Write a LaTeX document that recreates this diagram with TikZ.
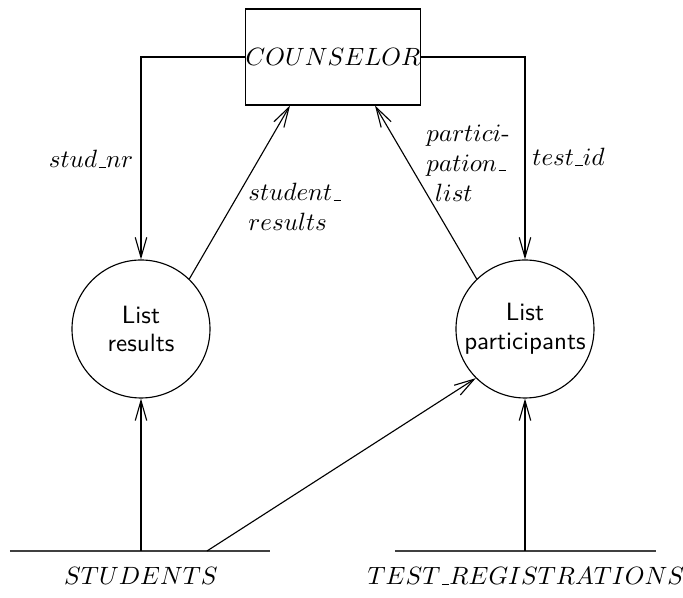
\documentclass[tikz,border=0pt]{standalone}
\usetikzlibrary{arrows.meta,calc}
% short, low underscore rule as in classic LaTeX
\newcommand\usc{\leavevmode\kern.06em\vbox{\hrule width.3em}}
\begin{document}
\begin{tikzpicture}[x=0.4pt,y=-0.4pt,
  flow/.style={line width=0.45pt,-{Straight Barb[length=8pt,width=4.6pt,line width=0.45pt]}},
  proc/.style={circle,draw,line width=0.45pt,minimum size=55.2pt,inner sep=0pt,align=center,font=\sffamily},
  entity/.style={rectangle,draw,line width=0.45pt,minimum width=68.8pt,minimum height=38.4pt,inner sep=0pt},
  store/.style={line width=0.7pt,black!75},
  lbl/.style={inner sep=0pt,align=left}]
\useasboundingbox (0,0) rectangle (683,598);

% external entity and processes
\node[entity] (box) at (333,57) {$COUNSELOR$};
\node[proc] (lr) at (141,329) {List\\[-0.5pt]results};
\node[proc] (lp) at (525,329) {List\\[-0.5pt]participants};

% data stores
\coordinate (stuL) at (10,551);
\coordinate (stuR) at (270,551);
\coordinate (trL) at (395,551);
\coordinate (trR) at (656,551);
\draw[store] (stuL) -- (stuR);
\draw[store] (trL) -- (trR);
\node (students) at (141,576) {$STUDENTS$};
\node (testreg) at (526,576) {$TEST$\usc$REGISTRATIONS$};

% connection points
\coordinate (srIn) at ($(box.south)+(-43,0)$);
\coordinate (plIn) at ($(box.south)+(42,0)$);
\coordinate (stuA) at (141,551);
\coordinate (stuB) at (207,551);
\coordinate (trA) at (525,551);

% flows
\draw[flow] (box.west) -| (lr.north);
\draw[flow] (box.east) -| (lp.north);
\draw[flow] (lr.46) -- (srIn);
\draw[flow] (lp.134) -- (plIn);
\draw[flow] (stuA) -- (lr.south);
\draw[flow] (stuB) -- (lp.225);
\draw[flow] (trA) -- (lp.south);

% flow labels
\node[lbl] (l1) at (91,159) {$stud$\usc$nr$};
\node[lbl,anchor=west] (l2) at (248,207) {$student$\usc\\$results$};
\node[lbl,anchor=west] (l3) at (426,163) {$partici$-\\$pation$\usc\\\hspace*{3.5pt}$list$};
\node[lbl,anchor=west] (l4) at (532,157) {$test$\usc$id$};
\end{tikzpicture}
\end{document}
